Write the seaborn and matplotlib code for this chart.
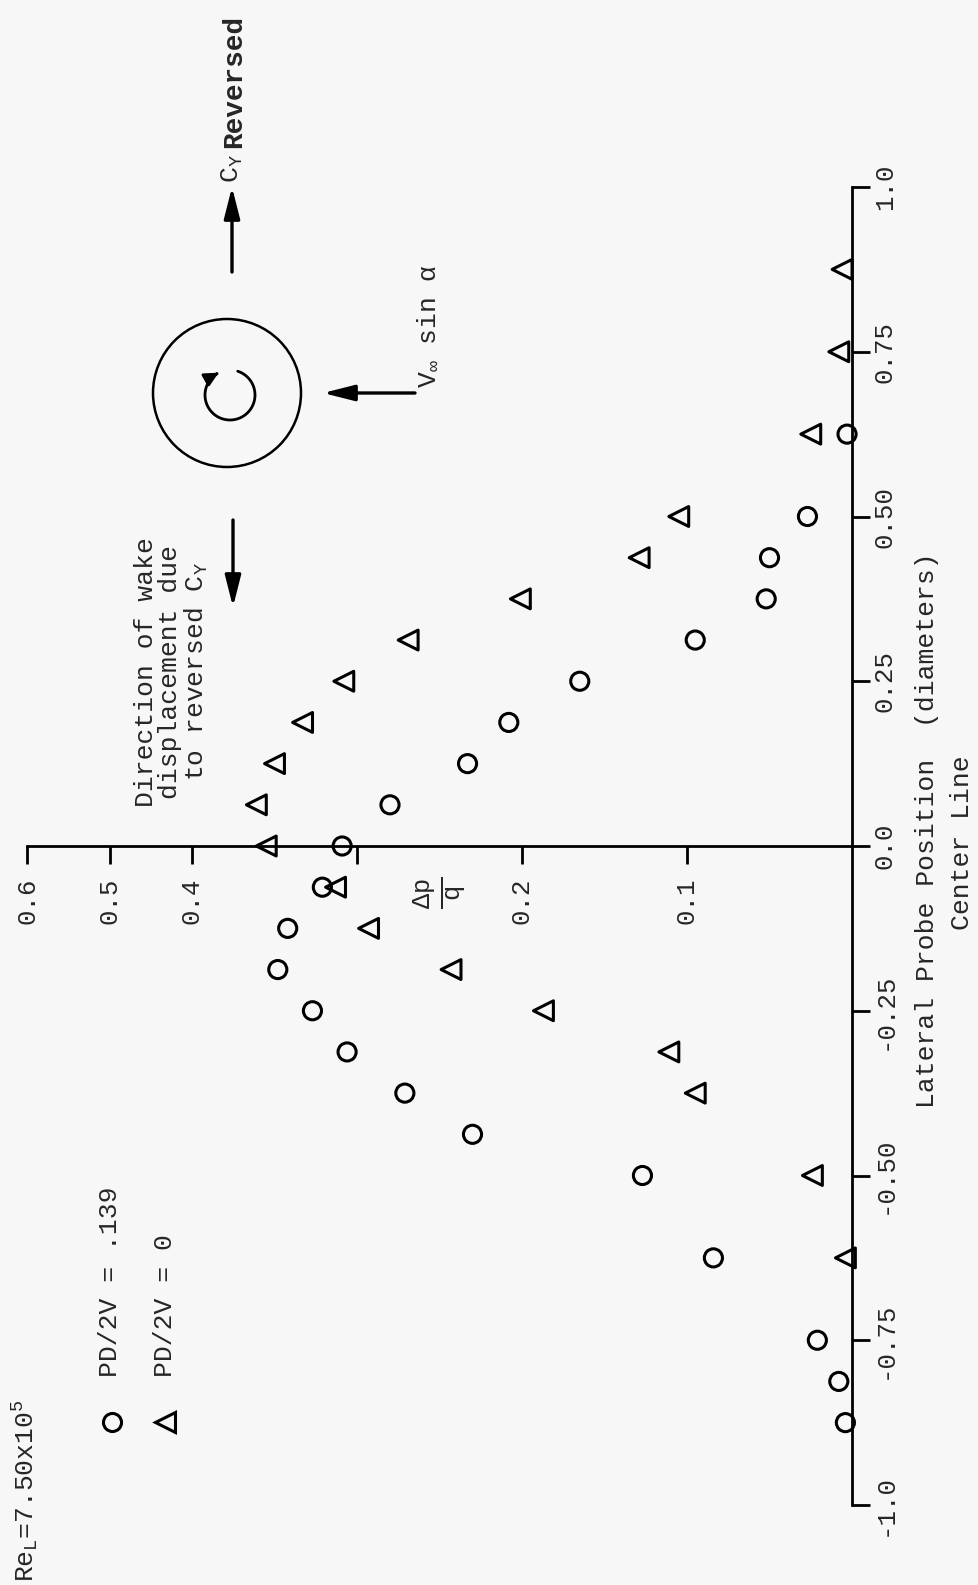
import numpy as np
import pandas as pd
import matplotlib
matplotlib.use('Agg')
import matplotlib.pyplot as plt
import seaborn as sns
from matplotlib.patches import Circle, FancyArrowPatch
from matplotlib.path import Path

# ---------------- data ----------------
lateral_circ = [-0.875, -0.8125, -0.75, -0.625, -0.5, -0.4375, -0.375, -0.3125, -0.25,
                -0.1875, -0.125, -0.0625, 0.0, 0.0625, 0.125, 0.1875, 0.25, 0.3125,
                0.375, 0.4375, 0.5, 0.625]
dpq_circ = [0.004, 0.008, 0.021, 0.084, 0.127, 0.230, 0.271, 0.306, 0.327,
            0.348, 0.342, 0.321, 0.309, 0.280, 0.233, 0.208, 0.165, 0.095,
            0.052, 0.050, 0.027, 0.003]
lateral_tri = [-0.625, -0.5, -0.375, -0.3125, -0.25, -0.1875, -0.125, -0.0625, 0.0,
               0.0625, 0.125, 0.1875, 0.25, 0.3125, 0.375, 0.4375, 0.5, 0.625, 0.75, 0.875]
dpq_tri = [0.004, 0.024, 0.095, 0.111, 0.187, 0.243, 0.293, 0.313, 0.355,
           0.361, 0.350, 0.333, 0.308, 0.269, 0.201, 0.129, 0.105, 0.025, 0.008, 0.006]

lat_ticks = [-1.0, -0.75, -0.5, -0.25, 0.0, 0.25, 0.5, 0.75, 1.0]
lat_labels = ['-1.0', '-0.75', '-0.50', '-0.25', '0.0', '0.25', '0.50', '0.75', '1.0']
dpq_ticks = [0.1, 0.2, 0.3, 0.4, 0.5, 0.6]
dpq_labels = ['0.1', '0.2', '', '0.4', '0.5', '0.6']

legend_labels = ['PD/2V = .139', 'PD/2V = 0']

# ---------------- style ----------------
sns.set_style('white')
plt.rcParams['font.family'] = ['Liberation Mono', 'DejaVu Sans']
plt.rcParams['mathtext.fontset'] = 'custom'
plt.rcParams['mathtext.rm'] = 'Liberation Mono'
plt.rcParams['mathtext.it'] = 'Liberation Mono'
plt.rcParams['mathtext.bf'] = 'Liberation Mono:bold'
plt.rcParams['axes.unicode_minus'] = False

W, H = 979, 1585
BG = '#f7f7f7'
fs = 19
tfs = 18.5
fig = plt.figure(figsize=(W / 100, H / 100), dpi=100, facecolor=BG)
ax = fig.add_axes([27 / W, (H - 1505) / H, 825 / W, 1318 / H])
ax.set_facecolor('none')


def fwd(v):
    v = np.asarray(v, float)
    return np.where(v <= 0.4, v, 0.4 + (v - 0.4) * 0.5)


def inv(t):
    t = np.asarray(t, float)
    return np.where(t <= 0.4, t, 0.4 + (t - 0.4) * 2.0)


ax.set_xscale('function', functions=(fwd, inv))

dfc = pd.DataFrame({'dpq': dpq_circ, 'lat': lateral_circ})
dft = pd.DataFrame({'dpq': dpq_tri, 'lat': lateral_tri})

sns.scatterplot(data=dfc, x='dpq', y='lat', marker='o', s=170, facecolors='none',
                edgecolor='black', linewidth=2.2, ax=ax, zorder=3, clip_on=False)
sns.scatterplot(data=dft, x='dpq', y='lat', marker='<', s=205, facecolors='none',
                edgecolor='black', linewidth=2.2, ax=ax, zorder=3, clip_on=False)
for coll in ax.collections:
    coll.set_facecolor('none')
    coll.set_edgecolor('black')

ax.set_xlim(0.6, 0)
ax.set_ylim(-1, 1)
ax.set_xlabel('')
ax.set_ylabel('')

for s in ['top', 'left']:
    ax.spines[s].set_visible(False)
ax.spines['bottom'].set_position(('data', 0))
for s in ['bottom', 'right']:
    ax.spines[s].set_linewidth(2.0)
    ax.spines[s].set_color('black')
    ax.spines[s].set_visible(True)

ax.yaxis.tick_right()
ax.xaxis.tick_bottom()
ax.set_xticks(dpq_ticks)
ax.set_xticklabels(dpq_labels, rotation=90)
ax.set_yticks(lat_ticks)
ax.set_yticklabels(lat_labels, rotation=90, va='center')
ax.tick_params(axis='x', bottom=True, top=False, direction='out', length=13, width=2,
               pad=10, labelsize=tfs, color='black')
ax.tick_params(axis='y', right=True, left=False, labelright=True, labelleft=False,
               direction='out', length=13, width=2, pad=2, labelsize=tfs, color='black')
ax.minorticks_off()

# ---------------- overlay annotations (pixel coordinates) ----------------
ov = fig.add_axes([0, 0, 1, 1])
ov.set_xlim(0, W)
ov.set_ylim(H, 0)
ov.axis('off')
ov.patch.set_visible(False)


def arrow(x0, y0, x1, y1):
    ov.add_patch(FancyArrowPatch((x0, y0), (x1, y1),
                                 arrowstyle='-|>,head_length=0.95,head_width=0.24',
                                 mutation_scale=20, lw=2.4, color='black',
                                 shrinkA=0, shrinkB=0))


# body cross-section
ov.add_patch(Circle((227, 393), 74, fill=False, lw=1.8, ec='black'))
th = np.deg2rad(np.linspace(18, 333, 80))
arc_xy = np.column_stack([230 + 25 * np.sin(th), 395 - 25 * np.cos(th)])
ov.add_patch(FancyArrowPatch(path=Path(arc_xy),
                             arrowstyle='-|>,head_length=0.6,head_width=0.3',
                             mutation_scale=14, lw=2.0, color='black'))

arrow(415, 393, 323, 393)     # V_inf sin alpha
arrow(232, 272, 232, 187)     # C_Y reversed
arrow(233, 520, 233, 607)     # wake displacement

ov.text(232, 183, 'C$_\\mathrm{Y}$', rotation=90, ha='center', va='bottom', fontsize=fs)
ov.text(234, 148, 'Reversed', rotation=90, ha='center', va='bottom', fontsize=20,
        fontweight='bold')
ov.text(428, 388, 'V$_\\infty$ sin α', rotation=90, ha='center', va='bottom', fontsize=fs)
ov.text(172, 672, 'Direction of wake\ndisplacement due\nto reversed C$_\\mathrm{Y}$',
        rotation=90, ha='center', va='center', multialignment='center',
        linespacing=1.0, fontsize=fs)

ov.text(927, 830, 'Lateral Probe Position  (diameters)', rotation=90, ha='center',
        va='center', fontsize=fs)
ov.text(962, 843, 'Center Line', rotation=90, ha='center', va='center', fontsize=fs)
ov.text(440, 893, r'$\frac{\Delta p}{q}$', rotation=90, ha='center', va='center',
        fontsize=26)

# legend
ov.plot([112], [1422], marker='o', ms=13, mfc='none', mec='black', mew=2.2, ls='none')
ov.plot([165], [1422], marker='<', ms=14.3, mfc='none', mec='black', mew=2.2, ls='none')
ov.text(110, 1377, legend_labels[0], rotation=90, ha='center', va='bottom', fontsize=fs)
ov.text(165, 1377, legend_labels[1], rotation=90, ha='center', va='bottom', fontsize=fs)

ov.text(26, 1582, 'Re$_\\mathrm{L}$=7.50x10$^5$', rotation=90, ha='center', va='bottom',
        fontsize=fs)

fig.savefig('out.png', dpi=100, facecolor=BG)
